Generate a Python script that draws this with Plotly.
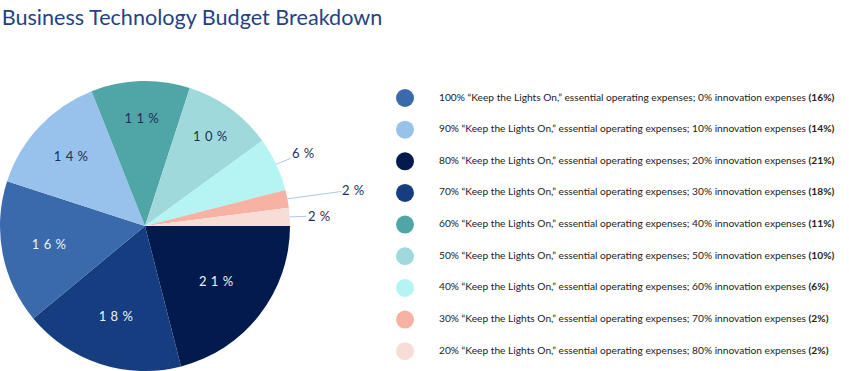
import math
import plotly.graph_objects as go

# ---- data ----
slice_shares = [21, 18, 16, 14, 11, 10, 6, 2, 2]          # clockwise from 3 o'clock
slice_keep_on = [80, 70, 100, 90, 60, 50, 40, 30, 20]     # "Keep the Lights On" share of each slice
slice_colors = ["#021a4e", "#153d80", "#3a69ac", "#98c1eb", "#50a5a7",
                "#a0d9db", "#b4f4f2", "#f7b2a3", "#f6ded7"]
slice_text_colors = ["#eef1f7", "#eef1f7", "#eef1f7", "#1d2f5c", "#1d2f5c",
                     "#1d2f5c", "#1d2f5c", "#1d2f5c", "#1d2f5c"]
slice_inside = [True, True, True, True, True, True, False, False, False]
# pixel offsets of the outside labels from the slice edge (label layout only)
outside_offsets = {6: (27, -11), 7: (66, -9), 8: (29, -1)}

legend_keep_on = [100, 90, 80, 70, 60, 50, 40, 30, 20]
legend_innov = [0, 10, 20, 30, 40, 50, 60, 70, 80]
legend_shares = [16, 14, 21, 18, 11, 10, 6, 2, 2]
legend_colors = ["#3a69ac", "#98c1eb", "#021a4e", "#153d80", "#50a5a7",
                 "#a0d9db", "#b4f4f2", "#f7b2a3", "#f6ded7"]

title_text = "Business Technology Budget Breakdown"

# ---- figure ----
W, H = 849, 371
R = 145                      # pie radius in px
CX, CY = 145, 226            # pie centre in px (from top-left)
SP = "\u2004"                # letter spacing used in the slice labels
slice_labels = [SP.join(f"{v}%") for v in slice_shares]

fig = go.Figure()
fig.add_trace(go.Pie(
    values=slice_shares,
    labels=[f"{k}%" for k in slice_keep_on],
    text=[t if ins else "" for t, ins in zip(slice_labels, slice_inside)],
    textinfo="text",
    textposition=["inside" if ins else "none" for ins in slice_inside],
    insidetextorientation="horizontal",
    sort=False,
    direction="clockwise",
    rotation=90,
    marker=dict(colors=slice_colors, line=dict(width=0)),
    textfont=dict(family="Lato", size=13, color=slice_text_colors),
    domain=dict(x=[(CX - R) / W, (CX + R) / W], y=[(H - CY - R) / H, (H - CY + R) / H]),
    showlegend=False,
    hoverinfo="skip",
))

# outside labels for the thin slices, pointing at the middle of each slice's rim
total = sum(slice_shares)
cum = 0
annotations = []
for i, v in enumerate(slice_shares):
    mid = (cum + v / 2) / total
    cum += v
    if slice_inside[i]:
        continue
    ang = math.radians(-360 * mid)         # clockwise from 3 o'clock
    tx = CX + R * math.cos(ang)
    ty = CY - R * math.sin(ang)
    ax, ay = outside_offsets[i]
    annotations.append(dict(
        x=tx / W, y=1 - ty / H, xref="paper", yref="paper",
        text=slice_labels[i], showarrow=True, arrowhead=0, arrowwidth=1,
        arrowcolor="#a9c9ee", ax=ax, ay=ay, standoff=0,
        font=dict(family="Lato", size=13, color="#1d2f5c"),
    ))

legend_text = [
    f"{k}% \u201cKeep the Lights On,\u201d essential operating expenses; {i}% innovation expenses <b>({s}%)</b>"
    for k, i, s in zip(legend_keep_on, legend_innov, legend_shares)
]
idx = list(range(len(legend_shares)))

fig.add_trace(go.Scatter(
    x=[0] * len(idx), y=idx, mode="markers",
    marker=dict(size=18, color=legend_colors, line=dict(width=0)),
    cliponaxis=False, showlegend=False, hoverinfo="skip",
))
fig.add_trace(go.Scatter(
    x=[34] * len(idx), y=idx, mode="text", text=legend_text,
    textposition="middle right",
    textfont=dict(family="Lato", size=10.2, color="#222222"),
    cliponaxis=False, showlegend=False, hoverinfo="skip",
))

top_px, step_px = 98, 31.65
fig.update_layout(
    width=W, height=H,
    margin=dict(l=0, r=0, t=0, b=0),
    paper_bgcolor="white", plot_bgcolor="white",
    title=dict(text=title_text, x=0.002, xanchor="left", y=0.952, yanchor="middle",
               font=dict(family="Lato", size=21.6, color="#1f4386")),
    xaxis=dict(domain=[405 / W, 1], range=[0, W - 405], visible=False, fixedrange=True),
    yaxis=dict(domain=[0, 1], range=[(H - top_px) / step_px, -top_px / step_px],
               visible=False, fixedrange=True),
    annotations=annotations,
    font=dict(family="Lato"),
)

fig.write_html("out.html", config={"displayModeBar": False},
               post_script="document.body.style.margin='0';")
